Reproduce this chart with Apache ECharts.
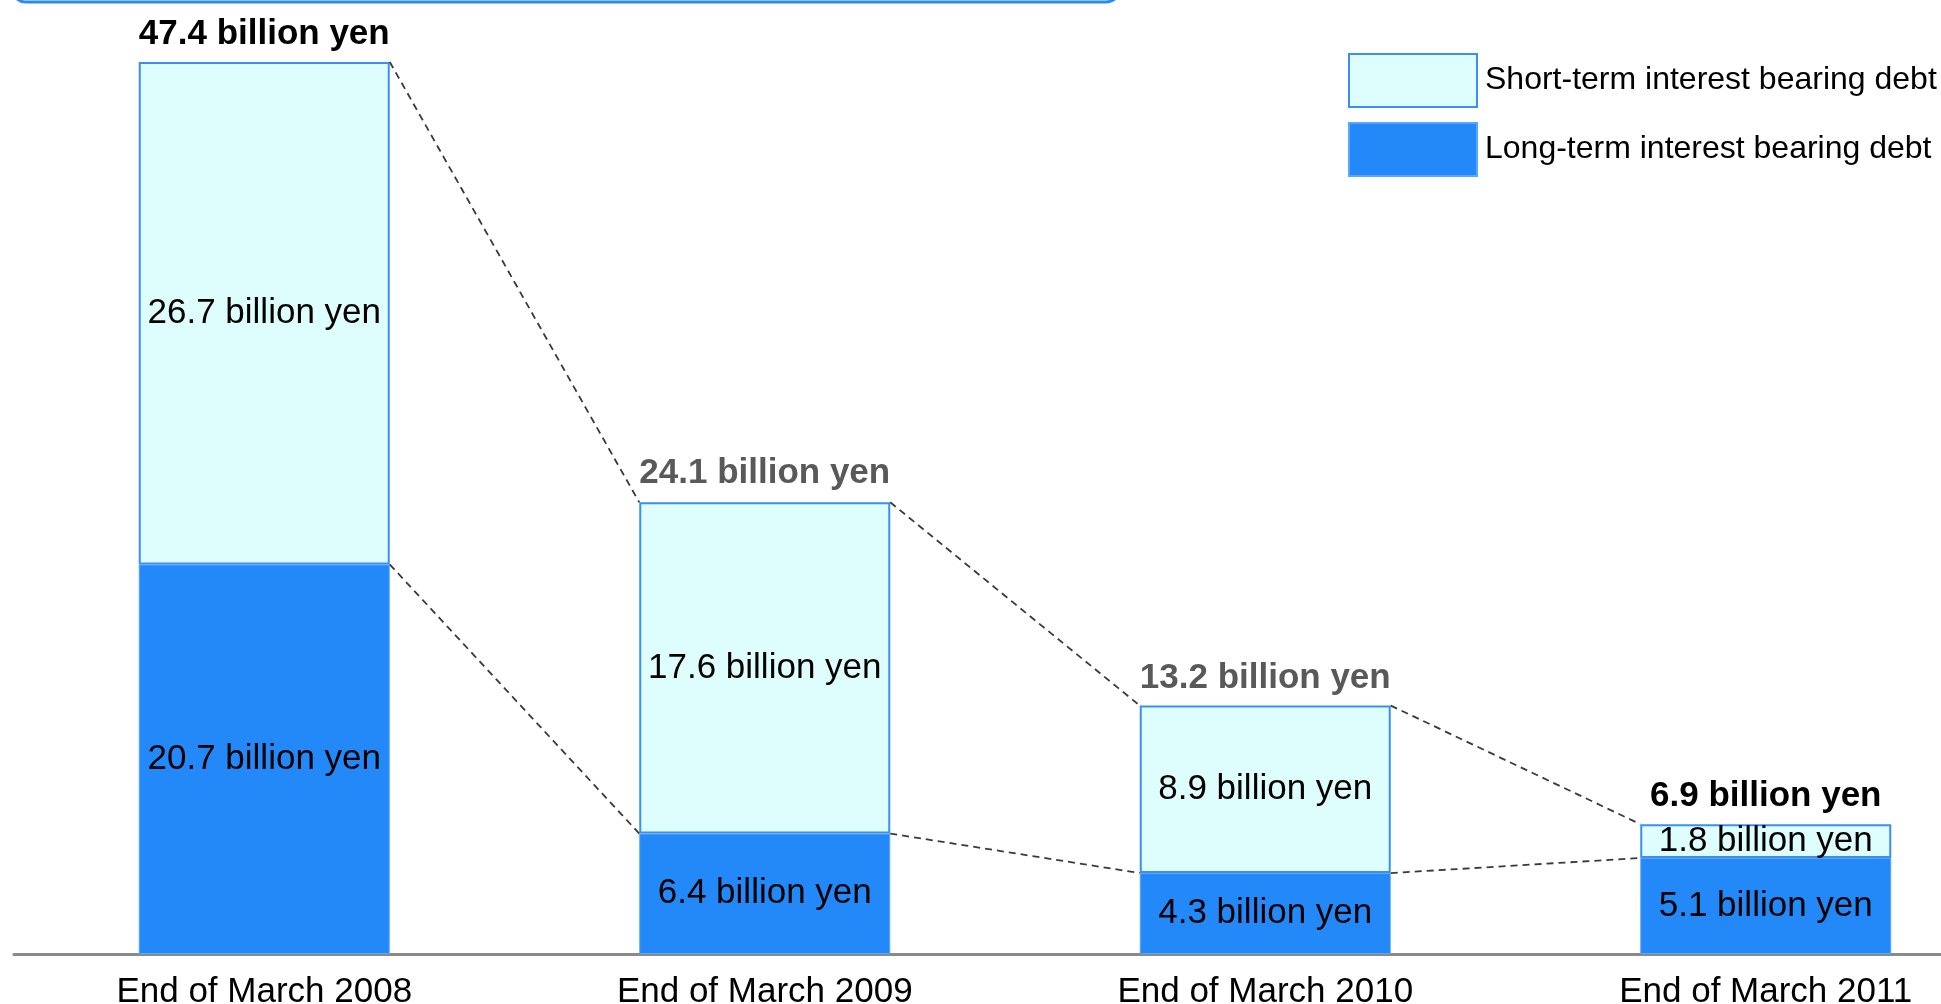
<!DOCTYPE html>
<html>
<head>
<meta charset="utf-8">
<script src="https://cdn.jsdelivr.net/npm/echarts@6/dist/echarts.min.js"></script>
<style>
  html, body { margin: 0; padding: 0; background: #fff; }
  #main { width: 1941px; height: 1004px; }
</style>
</head>
<body>
<div id="main"></div>
<script>
// chart data
var categories = ['End of March 2008', 'End of March 2009', 'End of March 2010', 'End of March 2011'];
var shortDebt = [26.7, 17.6, 8.9, 1.8];
var longDebt = [20.7, 6.4, 4.3, 5.1];
var totals = [47.4, 24.1, 13.2, 6.9];

var totalColors = ['#000000', '#595959', '#595959', '#000000'];
var BAR_W = 251;
var FONT = '"Liberation Sans", Arial, sans-serif';

var myChart = echarts.init(document.getElementById('main'));

// connector data: top/split of bar i to top/split of bar i+1
var links = [];
for (var i = 0; i < categories.length - 1; i++) {
  links.push([i, shortDebt[i] + longDebt[i], longDebt[i], shortDebt[i + 1] + longDebt[i + 1], longDebt[i + 1]]);
}

var option = {
  animation: false,
  backgroundColor: '#ffffff',
  textStyle: { fontFamily: FONT },
  graphic: [{
    type: 'rect',
    shape: { x: 12, y: -50, width: 1108, height: 52, r: 14 },
    style: { fill: 'none', stroke: '#2a8af5', lineWidth: 3 }
  }],
  legend: {
    orient: 'vertical',
    left: 1343,
    top: 48,
    icon: 'rect',
    itemWidth: 128,
    itemHeight: 53,
    itemGap: 14,
    textStyle: { fontSize: 32, color: '#000', padding: [0, 0, 0, 3] },
    data: ['Short-term interest bearing debt', 'Long-term interest bearing debt']
  },
  grid: { left: 14, width: 2002, top: 13, bottom: 50, outerBoundsMode: 'none', containLabel: false },
  xAxis: {
    type: 'category',
    data: categories,
    axisLine: { lineStyle: { color: '#8a8a8a', width: 3 } },
    axisTick: { show: false },
    axisLabel: { fontSize: 35, color: '#000', margin: 21 }
  },
  yAxis: {
    type: 'value',
    min: 0,
    max: 50,
    show: false,
    splitLine: { show: false }
  },
  series: [
    {
      name: 'Long-term interest bearing debt',
      type: 'bar',
      stack: 'debt',
      barWidth: BAR_W,
      itemStyle: { color: '#2389f8', borderColor: '#5aa6f8', borderWidth: 1 },
      label: {
        show: true, position: 'inside', fontSize: 35, color: '#000',
        formatter: '{c} billion yen'
      },
      data: longDebt
    },
    {
      name: 'Short-term interest bearing debt',
      type: 'bar',
      stack: 'debt',
      barWidth: BAR_W,
      itemStyle: { color: '#defefe', borderColor: '#3a8ef5', borderWidth: 2 },
      label: {
        show: true, position: 'inside', fontSize: 35, color: '#000',
        formatter: '{c} billion yen'
      },
      data: shortDebt
    },
    {
      type: 'scatter',
      symbolSize: 0,
      silent: true,
      itemStyle: { opacity: 1 },
      label: {
        show: true, position: 'top', distance: 10, fontSize: 35, fontWeight: 'bold',
        color: '#000'
      },
      data: totals.map(function (v, k) {
        return { value: v, label: { color: totalColors[k], formatter: v + ' billion yen' } };
      })
    },
    {
      type: 'custom',
      silent: true,
      z: 5,
      encode: { x: 0, y: [1, 2, 3, 4] },
      renderItem: function (params, api) {
        var idx = params.dataIndex;
        var half = BAR_W / 2;
        var t0 = api.coord([idx, api.value(1)]);
        var s0 = api.coord([idx, api.value(2)]);
        var t1 = api.coord([idx + 1, api.value(3)]);
        var s1 = api.coord([idx + 1, api.value(4)]);
        var style = { stroke: '#3a3a3a', lineWidth: 1.8, lineDash: [7, 5] };
        return {
          type: 'group',
          children: [
            { type: 'line', shape: { x1: t0[0] + half, y1: t0[1], x2: t1[0] - half, y2: t1[1] }, style: style },
            { type: 'line', shape: { x1: s0[0] + half, y1: s0[1], x2: s1[0] - half, y2: s1[1] }, style: style }
          ]
        };
      },
      data: links
    }
  ]
};

myChart.setOption(option);
</script>
</body>
</html>
